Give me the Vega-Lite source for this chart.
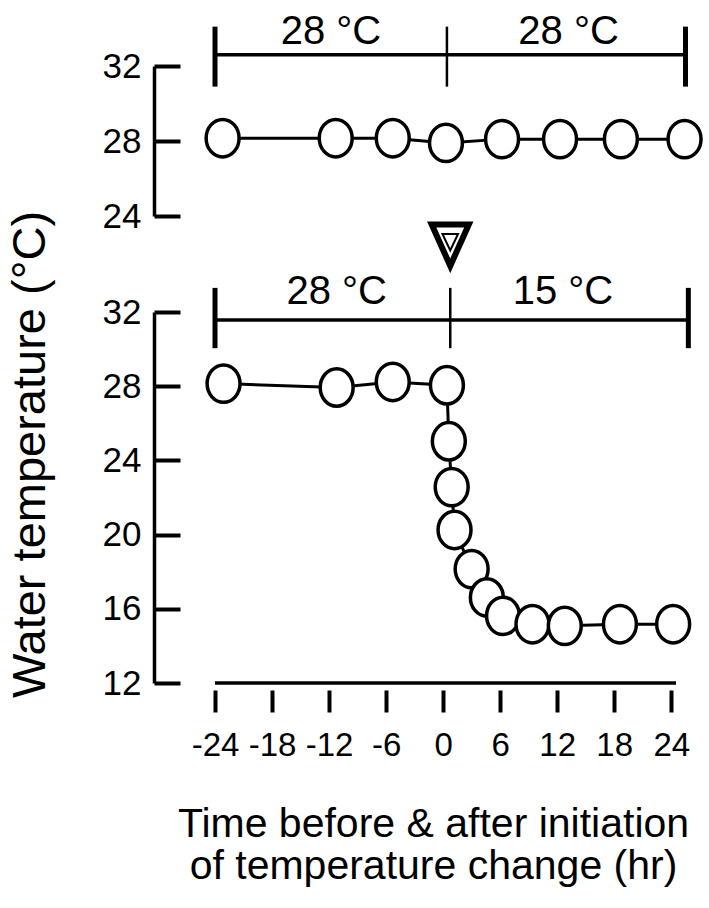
{
  "$schema": "https://vega.github.io/schema/vega-lite/v6.json",
  "background": "white",
  "padding": {"left": 5, "top": 12, "right": 5, "bottom": 5},
  "bounds": "flush",
  "spacing": 96,
  "config": {
    "view": {"stroke": null},
    "font": "Liberation Sans",
    "axis": {"grid": false, "domainColor": "black", "tickColor": "black", "labelColor": "black", "titleColor": "black", "labelFont": "Liberation Sans", "titleFont": "Liberation Sans", "titleFontWeight": "normal"}
  },
  "datasets": {
    "top": [
      {"x": -23.2, "y": 28.15}, {"x": -11.3, "y": 28.15}, {"x": -5.3, "y": 28.15}, {"x": 0.3, "y": 27.9},
      {"x": 6.2, "y": 28.1}, {"x": 12.3, "y": 28.1}, {"x": 18.7, "y": 28.1}, {"x": 25.4, "y": 28.1}
    ],
    "bottom": [
      {"x": -23.1, "y": 28.14}, {"x": -11.2, "y": 27.93}, {"x": -5.3, "y": 28.23}, {"x": 0.4, "y": 28.05},
      {"x": 0.6, "y": 25.03}, {"x": 0.9, "y": 22.56}, {"x": 1.2, "y": 20.25}, {"x": 3.0, "y": 18.14},
      {"x": 4.6, "y": 16.61}, {"x": 6.3, "y": 15.62}, {"x": 9.4, "y": 15.17}, {"x": 12.8, "y": 15.08},
      {"x": 18.6, "y": 15.17}, {"x": 24.2, "y": 15.17}
    ],
    "topBracket": [{"x": -24, "x2": 25.5, "y": 32.6}],
    "topTicks": [
      {"x": -24, "y": 30.9, "y2": 34.1, "kind": "end"},
      {"x": 0.4, "y": 30.9, "y2": 34.1, "kind": "mid"},
      {"x": 25.5, "y": 30.9, "y2": 34.1, "kind": "end"}
    ],
    "topLabels": [{"x": -11.8, "y": 33.15, "label": "28 °C"}, {"x": 13.2, "y": 33.15, "label": "28 °C"}],
    "bottomBracket": [{"x": -24, "x2": 25.8, "y": 31.57}],
    "bottomTicks": [
      {"x": -24, "y": 30.05, "y2": 33.3, "kind": "end"},
      {"x": 0.75, "y": 30.05, "y2": 33.3, "kind": "mid"},
      {"x": 25.8, "y": 30.05, "y2": 33.3, "kind": "end"}
    ],
    "bottomLabels": [{"x": -11.2, "y": 32.45, "label": "28 °C"}, {"x": 12.6, "y": 32.45, "label": "15 °C"}],
    "marker": [{"x": 0.75, "y": 35.6}],
    "xDomain": [{"x": -24, "x2": 24.5, "y": 12}]
  },
  "vconcat": [
    {
      "width": 461,
      "height": 150,
      "encoding": {
        "x": {"field": "x", "type": "quantitative", "scale": {"domain": [-24, 24.5], "nice": false, "zero": false}, "axis": null},
        "y": {"field": "y", "type": "quantitative", "scale": {"domain": [24, 32], "nice": false, "zero": false},
          "axis": {"values": [24, 28, 32], "offset": 61, "tickSize": -26, "tickWidth": 4, "domainWidth": 3.5, "labelFontSize": 35, "labelPadding": 39, "labelOverlap": false, "labelExpr": "'' + datum.value", "title": null}}
      },
      "layer": [
        {"data": {"name": "top"}, "mark": {"type": "line", "color": "black", "strokeWidth": 3}},
        {"data": {"name": "top"}, "mark": {"type": "point", "shape": "M0,-1A0.88,1 0 1,1 0,1A0.88,1 0 1,1 0,-1Z", "filled": true, "fill": "white", "stroke": "black", "strokeWidth": 3.5, "size": 1400, "opacity": 1}},
        {"data": {"name": "topBracket"}, "mark": {"type": "rule", "color": "black", "strokeWidth": 3.5}, "encoding": {"x2": {"field": "x2"}}},
        {"data": {"name": "topTicks"}, "transform": [{"filter": "datum.kind == 'end'"}], "mark": {"type": "rule", "color": "black", "strokeWidth": 5}, "encoding": {"y2": {"field": "y2"}}},
        {"data": {"name": "topTicks"}, "transform": [{"filter": "datum.kind == 'mid'"}], "mark": {"type": "rule", "color": "black", "strokeWidth": 2.5}, "encoding": {"y2": {"field": "y2"}}},
        {"data": {"name": "topLabels"}, "mark": {"type": "text", "fontSize": 40, "color": "black", "baseline": "alphabetic", "align": "center"}, "encoding": {"text": {"field": "label"}}}
      ]
    },
    {
      "width": 461,
      "height": 371,
      "encoding": {
        "x": {"field": "x", "type": "quantitative", "scale": {"domain": [-24, 24.5], "nice": false, "zero": false},
          "axis": {"values": [-24, -18, -12, -6, 0, 6, 12, 18, 24], "domain": false, "offset": 7, "tickSize": 22, "tickWidth": 4, "labelFontSize": 33, "labelPadding": 17, "labelFlush": false, "labelOverlap": false, "labelExpr": "'' + datum.value",
            "title": ["Time before & after initiation", "of temperature change (hr)"], "titleFontSize": 41, "titleLineHeight": 42, "titleX": 218, "titleY": 146, "titleBaseline": "alphabetic", "titleAlign": "center"}},
        "y": {"field": "y", "type": "quantitative", "scale": {"domain": [12, 32], "nice": false, "zero": false},
          "axis": {"values": [12, 16, 20, 24, 28, 32], "offset": 61, "tickSize": -26, "tickWidth": 4, "domainWidth": 3.5, "labelFontSize": 35, "labelPadding": 39, "labelOverlap": false, "labelExpr": "'' + datum.value",
            "title": "Water temperature (°C)", "titleFontSize": 47, "titleAngle": 270, "titleBaseline": "alphabetic", "titleAlign": "center", "titleX": -110, "titleY": 142}}
      },
      "layer": [
        {"data": {"name": "xDomain"}, "mark": {"type": "rule", "color": "black", "strokeWidth": 3.5}, "encoding": {"x2": {"field": "x2"}}},
        {"data": {"name": "bottom"}, "mark": {"type": "line", "color": "black", "strokeWidth": 3}},
        {"data": {"name": "bottom"}, "mark": {"type": "point", "shape": "M0,-1A0.88,1 0 1,1 0,1A0.88,1 0 1,1 0,-1Z", "filled": true, "fill": "white", "stroke": "black", "strokeWidth": 3.5, "size": 1400, "opacity": 1}},
        {"data": {"name": "bottomBracket"}, "mark": {"type": "rule", "color": "black", "strokeWidth": 3.5}, "encoding": {"x2": {"field": "x2"}}},
        {"data": {"name": "bottomTicks"}, "transform": [{"filter": "datum.kind == 'end'"}], "mark": {"type": "rule", "color": "black", "strokeWidth": 5}, "encoding": {"y2": {"field": "y2"}}},
        {"data": {"name": "bottomTicks"}, "transform": [{"filter": "datum.kind == 'mid'"}], "mark": {"type": "rule", "color": "black", "strokeWidth": 2.5}, "encoding": {"y2": {"field": "y2"}}},
        {"data": {"name": "bottomLabels"}, "mark": {"type": "text", "fontSize": 40, "color": "black", "baseline": "alphabetic", "align": "center"}, "encoding": {"text": {"field": "label"}}},
        {"data": {"name": "marker"}, "mark": {"type": "point", "shape": "M-0.9,-1L0.9,-1L0,1Z", "size": 1700, "filled": true, "fill": "white", "stroke": "black", "strokeWidth": 6, "opacity": 1}},
        {"data": {"name": "marker"}, "mark": {"type": "point", "shape": "M-0.9,-1.3L0.9,-1.3L0,0.6Z", "size": 300, "filled": false, "stroke": "black", "strokeWidth": 2, "opacity": 1}}
      ]
    }
  ]
}
